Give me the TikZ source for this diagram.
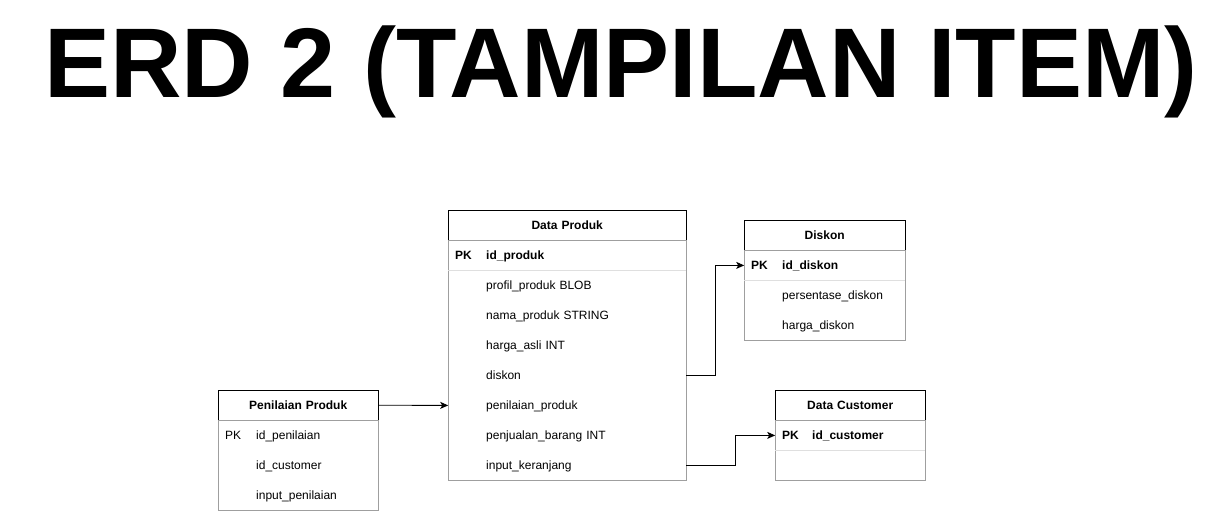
\documentclass[tikz,border=0pt]{standalone}
\usepackage{fontspec}
\setmainfont{Liberation Sans}
\usetikzlibrary{positioning,matrix}
\usetikzlibrary{arrows.meta}
\tikzset{%
  % Specifications for style of nodes:
    >={Stealth[length=8pt,width=7pt,inset=2pt]},
    tbl/.style={matrix of nodes, row sep=0pt, column sep=0pt, inner sep=0pt, outer sep=0pt,
        nodes in empty cells, anchor=north west,
        nodes={minimum height=30pt, inner xsep=7pt, inner ysep=0pt, outer sep=0pt,
          text height=10.5pt, text depth=1.5pt, align=left, font=\fontsize{12}{14}\selectfont},
        row 1/.style={nodes={draw=black, align=center, font=\fontsize{12}{14}\selectfont\bfseries}}},
    pkbold/.style={row 2/.style={nodes={font=\fontsize{12}{14}\selectfont\bfseries}}},
    bodyframe/.style={draw=gray!75, line width=0.8pt},
    sepline/.style={draw=gray!25, line width=0.8pt},
    fk/.style={->, line width=0.9pt},
}
\newcommand{\pkrow}[1]{\makebox[31pt][l]{PK}#1}
\newcommand{\fldrow}[1]{\hspace*{31pt}#1}

\begin{document}
\begin{tikzpicture}[x=1pt,y=1pt]
    \useasboundingbox (0,0) rectangle (1205,-511);
    % title
    \node[anchor=base, inner sep=0pt, font=\fontsize{99}{99}\selectfont\bfseries] (title) at (621,-97) {ERD 2 (TAMPILAN ITEM)};

    % tables
    \matrix (prod) [tbl, pkbold, nodes={text width=224pt}] at (448,-210)
      {
        Data Produk\\
        \pkrow{id\_produk}\\
        \fldrow{profil\_produk BLOB}\\
        \fldrow{nama\_produk STRING}\\
        \fldrow{harga\_asli INT}\\
        \fldrow{diskon}\\
        \fldrow{penilaian\_produk}\\
        \fldrow{penjualan\_barang INT}\\
        \fldrow{input\_keranjang}\\
      };
    \matrix (disk) [tbl, pkbold, nodes={text width=147pt}] at (744,-220)
      {
        Diskon\\
        \pkrow{id\_diskon}\\
        \fldrow{persentase\_diskon}\\
        \fldrow{harga\_diskon}\\
      };
    \matrix (cust) [tbl, pkbold, nodes={text width=136pt}] at (775,-390)
      {
        Data Customer\\
        \makebox[30pt][l]{PK}id\_customer\\
        \\
      };
    \matrix (pen) [tbl, nodes={text width=146pt}] at (218,-390)
      {
        Penilaian Produk\\
        \pkrow{id\_penilaian}\\
        \fldrow{id\_customer}\\
        \fldrow{input\_penilaian}\\
      };

    % frames and separators
    \draw[bodyframe] (prod-1-1.south west) rectangle (prod-9-1.south east);
    \draw[sepline] (prod-2-1.south west) -- (prod-2-1.south east);
    \draw[bodyframe] (disk-1-1.south west) rectangle (disk-4-1.south east);
    \draw[sepline] (disk-2-1.south west) -- (disk-2-1.south east);
    \draw[bodyframe] (cust-1-1.south west) rectangle (cust-3-1.south east);
    \draw[sepline] (cust-2-1.south west) -- (cust-2-1.south east);
    \draw[bodyframe] (pen-1-1.south west) rectangle (pen-4-1.south east);

    % relations
    \draw[fk] (pen-1-1.east) -- (prod-7-1.west);
    \draw[fk] (prod-6-1.east) -- ++(29,0) |- (disk-2-1.west);
    \draw[fk] (prod-9-1.east) -- ++(49,0) |- (cust-2-1.west);
\end{tikzpicture}
\end{document}
